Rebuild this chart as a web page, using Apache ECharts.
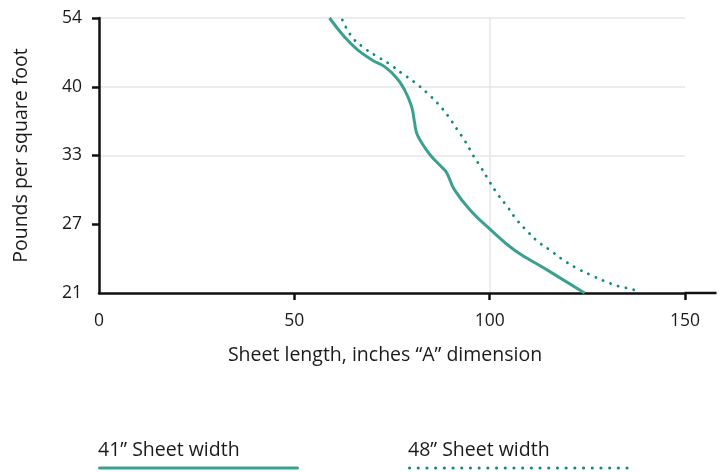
<!DOCTYPE html>
<html>
<head>
<meta charset="utf-8">
<script src="https://cdn.jsdelivr.net/npm/echarts@6/dist/echarts.min.js"></script>
<style>
html,body{margin:0;padding:0;background:#fff;}
#c{width:723px;height:472px;}
</style>
</head>
<body>
<div id="c"></div>
<script>
// Y tick labels (pounds per square foot), drawn equally spaced
const yTicks = [21, 27, 33, 40, 54];
const xTicks = [0, 50, 100, 150];

// 41" sheet width: sheet length (in) vs pounds per square foot
const len41 = [59.0, 62.8, 66.2, 70.0, 73.1, 76.2, 78.2, 80.0, 80.8, 81.3, 82.6, 84.9, 87.7, 89.0, 91.0, 95.4, 100.0, 106.3, 113.8, 124.3];
const psf41 = [54.0, 50.2, 47.5, 45.4, 44.1, 41.8, 39.7, 38.0, 36.3, 35.3, 34.3, 33.0, 32.0, 31.5, 30.0, 28.1, 26.6, 24.75, 23.2, 21.0];

// 48" sheet width
const len48 = [62.3, 64.7, 67.7, 70.9, 74.4, 77.6, 80.8, 83.9, 86.7, 89.3, 91.6, 93.8, 95.8, 97.9, 100.0, 102.1, 104.6, 106.9, 109.6, 112.3, 115.4, 118.75, 122.1, 125.7, 129.3, 132.9, 136.7, 138.6];
const psf48 = [53.6, 50.2, 48.0, 46.3, 44.6, 42.7, 40.9, 39.4, 38.3, 37.05, 35.7, 34.4, 33.0, 31.9, 30.7, 29.6, 28.5, 27.4, 26.4, 25.5, 24.75, 23.9, 23.2, 22.6, 22.05, 21.6, 21.3, 21.0];

const seriesNames = ['41\u201D Sheet width', '48\u201D Sheet width'];
const colors = ['#3aa08f', '#0e8a7a'];

// map a psf value onto the equally spaced tick index scale
function psfToPos(v) {
  for (let i = 0; i < yTicks.length - 1; i++) {
    if (v <= yTicks[i + 1]) {
      return i + (v - yTicks[i]) / (yTicks[i + 1] - yTicks[i]);
    }
  }
  return yTicks.length - 1;
}
function pairs(xs, ys) { return xs.map((x, i) => [x, psfToPos(ys[i])]); }

const FONT = 'Open Sans';
const FS = 19.5;   // titles / legend
const FT = 17.5;   // tick labels
const TXT = '#1a1a1a';
const dotted = [0.1, 7.9];

const textLegend = (name, left) => ({
  data: [name], left: left, top: 440, padding: 0, itemWidth: 0, itemHeight: 0, itemGap: 0,
  icon: 'rect', itemStyle: {opacity: 0}, selectedMode: false,
  textStyle: {fontSize: FS, color: TXT, fontFamily: FONT, padding: 0}
});
const lineLegend = (name, left, width, color, type) => ({
  data: [name], left: left, top: 466, padding: 0, itemWidth: width, itemHeight: 4, selectedMode: false,
  formatter: () => '', itemStyle: {opacity: 0},
  inactiveColor: color, inactiveWidth: 3,
  lineStyle: {width: 3, color: color, type: type, cap: 'round', inactiveColor: color, inactiveWidth: 3}
});

const chart = echarts.init(document.getElementById('c'), null, {renderer: 'canvas'});
chart.setOption({
  animation: false,
  backgroundColor: '#fff',
  textStyle: {fontFamily: FONT},
  grid: {left: 99, top: 18, width: 586, height: 275, containLabel: false},
  xAxis: {
    type: 'value', min: xTicks[0], max: xTicks[xTicks.length - 1], interval: 50,
    name: 'Sheet length, inches \u201CA\u201D dimension',
    nameLocation: 'middle', nameGap: 52,
    nameTextStyle: {fontSize: FS, color: TXT, fontFamily: FONT, padding: [0, 14, 0, 0]},
    axisLine: {show: true, lineStyle: {color: '#111', width: 2.5},
      symbol: ['none', 'rect'], symbolSize: [2.5, 32], symbolOffset: [0, 15.5]},
    axisTick: {show: true, length: 7, lineStyle: {color: '#111', width: 2.5}, customValues: [50, 100, 150]},
    axisLabel: {fontSize: FT, color: TXT, margin: 19, fontFamily: FONT},
    splitLine: {show: true, showMinLine: false, showMaxLine: false, lineStyle: {color: '#e6e6e6', width: 1.5}}
  },
  yAxis: {
    type: 'value', min: 0, max: yTicks.length - 1, interval: 1,
    name: 'Pounds per square foot',
    nameLocation: 'middle', nameGap: 68, nameRotate: 90,
    nameTextStyle: {fontSize: FS, color: TXT, fontFamily: FONT},
    axisLine: {show: true, lineStyle: {color: '#111', width: 2.5}},
    axisTick: {show: true, length: 7, lineStyle: {color: '#111', width: 2.5}, customValues: [1, 2, 3, 4]},
    axisLabel: {fontSize: FT, color: TXT, margin: 17, fontFamily: FONT,
      formatter: v => (yTicks[v] !== undefined ? String(yTicks[v]) : '')},
    splitLine: {show: true, showMinLine: false, lineStyle: {color: '#e6e6e6', width: 1.5}}
  },
  legend: [
    textLegend(seriesNames[0], 93),
    textLegend(seriesNames[1], 403),
    lineLegend(seriesNames[0], 98, 198, colors[0], 'solid'),
    lineLegend(seriesNames[1], 408, 225, colors[1], [0.1, 8.6])
  ],
  series: [
    {name: seriesNames[0], type: 'line', data: pairs(len41, psf41), smooth: 0.45,
     symbol: 'none', lineStyle: {color: colors[0], width: 3}, itemStyle: {color: colors[0]}},
    {name: seriesNames[1], type: 'line', data: pairs(len48, psf48), smooth: 0.45,
     symbol: 'none', lineStyle: {color: colors[1], width: 2.8, type: dotted, cap: 'round'},
     itemStyle: {color: colors[1]}}
  ]
});
</script>
</body>
</html>
